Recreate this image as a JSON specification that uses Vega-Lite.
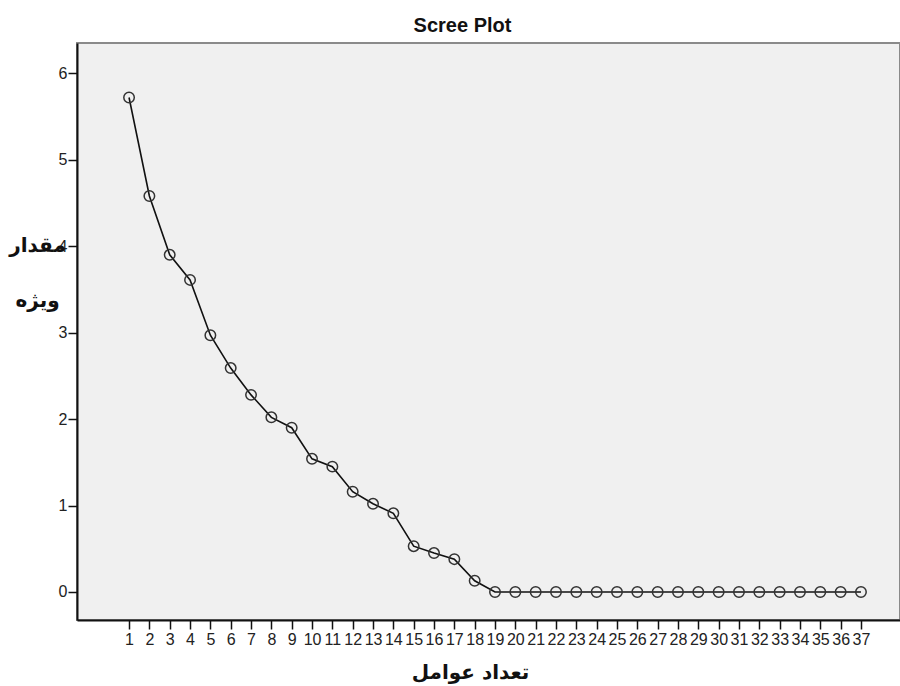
{
  "$schema": "https://vega.github.io/schema/vega-lite/v6.json",
  "autosize": {"type": "none"},
  "width": 823,
  "height": 577,
  "padding": {"left": 77, "top": 43, "right": 0, "bottom": 66},
  "background": "white",
  "title": {"text": "Scree Plot", "font": "Liberation Sans", "fontSize": 20, "fontWeight": "bold", "color": "#111", "anchor": "middle", "dx": -26, "dy": 21, "offset": 8, "baseline": "bottom"},
  "config": {
    "view": {"fill": "#f0f0f0", "stroke": "#8a8a8a", "strokeWidth": 2}
  },
  "data": {"values": [
    {"component": 1, "eigenvalue": 5.72},
    {"component": 2, "eigenvalue": 4.58},
    {"component": 3, "eigenvalue": 3.90},
    {"component": 4, "eigenvalue": 3.61},
    {"component": 5, "eigenvalue": 2.97},
    {"component": 6, "eigenvalue": 2.59},
    {"component": 7, "eigenvalue": 2.28},
    {"component": 8, "eigenvalue": 2.02},
    {"component": 9, "eigenvalue": 1.90},
    {"component": 10, "eigenvalue": 1.54},
    {"component": 11, "eigenvalue": 1.45},
    {"component": 12, "eigenvalue": 1.16},
    {"component": 13, "eigenvalue": 1.02},
    {"component": 14, "eigenvalue": 0.91},
    {"component": 15, "eigenvalue": 0.53},
    {"component": 16, "eigenvalue": 0.45},
    {"component": 17, "eigenvalue": 0.38},
    {"component": 18, "eigenvalue": 0.13},
    {"component": 19, "eigenvalue": 0},
    {"component": 20, "eigenvalue": 0},
    {"component": 21, "eigenvalue": 0},
    {"component": 22, "eigenvalue": 0},
    {"component": 23, "eigenvalue": 0},
    {"component": 24, "eigenvalue": 0},
    {"component": 25, "eigenvalue": 0},
    {"component": 26, "eigenvalue": 0},
    {"component": 27, "eigenvalue": 0},
    {"component": 28, "eigenvalue": 0},
    {"component": 29, "eigenvalue": 0},
    {"component": 30, "eigenvalue": 0},
    {"component": 31, "eigenvalue": 0},
    {"component": 32, "eigenvalue": 0},
    {"component": 33, "eigenvalue": 0},
    {"component": 34, "eigenvalue": 0},
    {"component": 35, "eigenvalue": 0},
    {"component": 36, "eigenvalue": 0},
    {"component": 37, "eigenvalue": 0}
  ]},
  "encoding": {
    "x": {
      "field": "component", "type": "quantitative",
      "scale": {"domain": [-1.56, 38.92], "nice": false, "zero": false},
      "axis": {
        "values": [1,2,3,4,5,6,7,8,9,10,11,12,13,14,15,16,17,18,19,20,21,22,23,24,25,26,27,28,29,30,31,32,33,34,35,36,37],
        "grid": false, "tickSize": 9, "tickWidth": 1.5, "tickColor": "#111",
        "domainColor": "#111", "domainWidth": 2,
        "labelFont": "Liberation Sans", "labelFontSize": 16, "labelColor": "#222",
        "labelPadding": 2, "labelOverlap": false, "labelAngle": 0, "labelFlush": false,
        "title": "تعداد عوامل", "titleFont": "DejaVu Sans", "titleFontSize": 20, "titleFontWeight": "bold",
        "titleColor": "#111", "titleX": 393, "titleY": 52, "titleBaseline": "middle", "titleAnchor": null, "titleAlign": "center"
      }
    },
    "y": {
      "field": "eigenvalue", "type": "quantitative",
      "scale": {"domain": [-0.324, 6.35], "nice": false, "zero": false},
      "axis": {
        "values": [0,1,2,3,4,5,6],
        "grid": false, "tickSize": 9, "tickWidth": 1.5, "tickColor": "#111",
        "domainColor": "#111", "domainWidth": 2,
        "labelFont": "Liberation Sans", "labelFontSize": 16, "labelColor": "#222",
        "labelPadding": 1,
        "title": ["مقدار", "ویژه"], "titleFont": "DejaVu Sans", "titleFontSize": 20, "titleFontWeight": "bold",
        "titleColor": "#111", "titleAngle": 0, "titleX": -40, "titleY": 202, "titleAlign": "center",
        "titleBaseline": "middle", "titleLineHeight": 55
      }
    }
  },
  "layer": [
    {"mark": {"type": "line", "color": "#111", "strokeWidth": 1.6}},
    {"mark": {"type": "point", "shape": "circle", "filled": false, "size": 110, "stroke": "#333", "strokeWidth": 1.5, "opacity": 1}}
  ]
}
